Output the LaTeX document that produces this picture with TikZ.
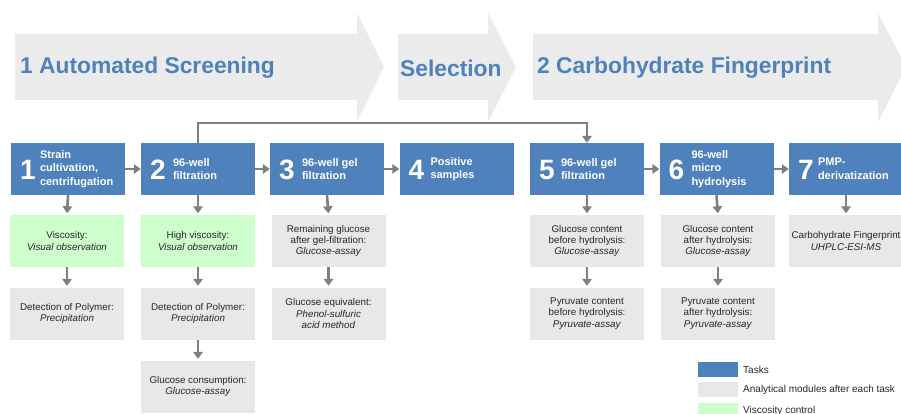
\documentclass[tikz,border=0pt]{standalone}
\usepackage{fontspec}
\setmainfont{Liberation Sans}
\usetikzlibrary{arrows.meta}
\definecolor{taskblue}{HTML}{4F81BD}
\definecolor{titleblue}{HTML}{4F81BD}
\definecolor{bigarrowgray}{HTML}{EBEBEB}
\definecolor{modgray}{HTML}{E8E8E8}
\definecolor{viscgreen}{HTML}{CCFFCC}
\definecolor{conngray}{HTML}{7F7F7F}
\definecolor{txtdark}{HTML}{262626}
\tikzset{
  bigarrow/.style={fill=bigarrowgray, draw=none},
  title/.style={anchor=west, text=titleblue, font=\bfseries\fontsize{22.8}{24}\selectfont, inner sep=0pt},
  task/.style={fill=taskblue, draw=none, minimum width=114pt, minimum height=52pt, inner sep=0pt},
  num/.style={text=white, font=\bfseries\fontsize{28}{30}\selectfont, inner sep=0pt},
  lbl/.style={anchor=west, text=white, align=left, font=\bfseries\fontsize{11}{13.5}\selectfont, inner sep=0pt},
  module/.style={fill=modgray, draw=none, minimum width=114pt, minimum height=52pt, inner sep=0pt, align=center, text=txtdark, font=\fontsize{9.8}{11.3}\selectfont},
  visc/.style={module, fill=viscgreen},
  conn/.style={draw=conngray, line width=2.6pt, -{Triangle[width=9.5pt,length=7pt]}},
  connv/.style={conn, shorten >=1.5pt},
  legbox/.style={minimum width=40pt, minimum height=15pt, inner sep=0pt, draw=none},
  legtxt/.style={anchor=west, text=txtdark, font=\fontsize{10}{12}\selectfont, inner sep=0pt}
}
\begin{document}
\begin{tikzpicture}[x=1pt,y=-1pt]
\useasboundingbox (0,0) rectangle (901,414);
\clip (0,0) rectangle (901,414);
% big phase arrows
\fill[bigarrow] (15,34) -- (357,34) -- (357,13) -- (384,67) -- (357,122) -- (357,100) -- (15,100) -- cycle;
\fill[bigarrow] (398,34) -- (488,34) -- (488,13) -- (516,67) -- (488,122) -- (488,100) -- (398,100) -- cycle;
\fill[bigarrow] (533,34) -- (878,34) -- (878,13) -- (906,67) -- (878,122) -- (878,100) -- (533,100) -- cycle;
\node[title] (ph1) at (20,68) {1 Automated Screening};
\node[title] (ph2) at (400,68) {Selection};
\node[title] (ph3) at (537,68) {2 Carbohydrate Fingerprint};

% tasks
\node[task] (t1) at (68,169) {};
\node[task] (t2) at (198,169) {};
\node[task] (t3) at (327,169) {};
\node[task] (t4) at (456.5,169) {};
\node[task] (t5) at (587,169) {};
\node[task] (t6) at (716.5,169) {};
\node[task] (t7) at (846,169) {};
\foreach \i in {1,...,7} {
  \node[num] (n\i) at ([xshift=17pt,yshift=-1pt]t\i.west) {\i};
}
\node[lbl] (l1) at ([xshift=29pt]t1.west) {Strain\\cultivation,\\centrifugation};
\node[lbl] (l2) at ([xshift=32pt]t2.west) {96-well\\filtration};
\node[lbl] (l3) at ([xshift=32pt]t3.west) {96-well gel\\filtration};
\node[lbl] (l4) at ([xshift=31pt]t4.west) {Positive\\samples};
\node[lbl] (l5) at ([xshift=31pt]t5.west) {96-well gel\\filtration};
\node[lbl] (l6) at ([xshift=32pt]t6.west) {96-well\\micro\\hydrolysis};
\node[lbl] (l7) at ([xshift=29pt]t7.west) {PMP-\\derivatization};

% modules
\node[visc] (m11) at (67,241) {Viscosity:\\\textit{Visual observation}};
\node[visc] (m21) at (198,241) {High viscosity:\\\textit{Visual observation}};
\node[module] (m31) at (328.5,241) {Remaining glucose\\after gel-filtration:\\\textit{Glucose-assay}};
\node[module] (m51) at (587,241) {Glucose content\\before hydrolysis:\\\textit{Glucose-assay}};
\node[module] (m61) at (718,241) {Glucose content\\after hydrolysis:\\\textit{Glucose-assay}};
\node[module] (m71) at (846,241) {Carbohydrate Fingerprint\\\textit{UHPLC-ESI-MS}};
\node[module] (m12) at (67,313.5) {Detection of Polymer:\\\textit{Precipitation}};
\node[module] (m22) at (198,313.5) {Detection of Polymer:\\\textit{Precipitation}};
\node[module] (m32) at (328.5,313.5) {Glucose equivalent:\\\textit{Phenol-sulfuric}\\\textit{acid method}};
\node[module] (m52) at (587,313.5) {Pyruvate content\\before hydrolysis:\\\textit{Pyruvate-assay}};
\node[module] (m62) at (718,313.5) {Pyruvate content\\after hydrolysis:\\\textit{Pyruvate-assay}};
\node[module] (m23) at (198,386.5) {Glucose consumption:\\\textit{Glucose-assay}};

% horizontal connectors
\draw[conn] (t1) -- (t2);
\draw[conn] (t2) -- (t3);
\draw[conn] (t3) -- (t4);
\draw[conn] (t5) -- (t6);
\draw[conn] (t6) -- (t7);
% over-the-top connector
\coordinate (up2) at (198,123);
\coordinate (up5) at (587,123);
\draw[conn] (t2.north) -- (up2) -- (up5) -- (t5.north);
% vertical connectors
\draw[connv] (t1.south) -- (m11.north);
\draw[connv] (m11.south) -- (m12.north);
\draw[connv] (t2.south) -- (m21.north);
\draw[connv] (m21.south) -- (m22.north);
\draw[connv] (m22.south) -- (m23.north);
\draw[connv] (t3.south) -- (m31.north);
\draw[connv] (m31.south) -- (m32.north);
\draw[connv] (t5.south) -- (m51.north);
\draw[connv] (m51.south) -- (m52.north);
\draw[connv] (t6.south) -- (m61.north);
\draw[connv] (m61.south) -- (m62.north);
\draw[connv] (t7.south) -- (m71.north);

% legend
\node[legbox, fill=taskblue] (lg1) at (718,369.5) {};
\node[legbox, fill=modgray] (lg2) at (718,389.5) {};
\node[legbox, fill=viscgreen] (lg3) at (718,410.5) {};
\node[legtxt] (lt1) at (743,369.5) {Tasks};
\node[legtxt] (lt2) at (743,389.5) {Analytical modules after each task};
\node[legtxt] (lt3) at (743,411) {Viscosity control};
\end{tikzpicture}
\end{document}
